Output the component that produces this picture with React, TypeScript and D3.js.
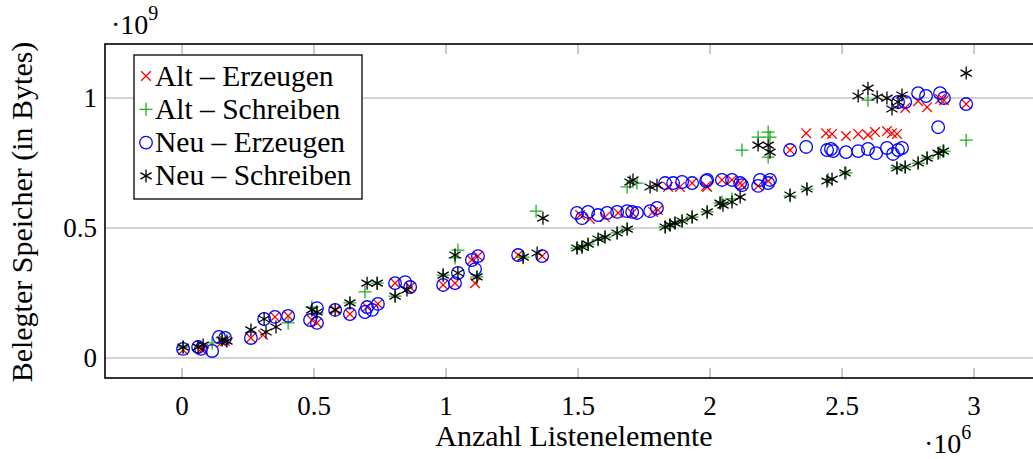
import React from "react";
import * as d3 from "d3";

// Data in units: x = 10^6 elements, y = 10^9 bytes
const altErzeugen: [number, number][] = [
  [0.004, 0.031], [0.072, 0.035], [0.08, 0.035], [0.152, 0.062], [0.163, 0.065], [0.261, 0.077],
  [0.307, 0.088], [0.352, 0.158], [0.402, 0.162], [0.511, 0.135], [0.492, 0.146], [0.58, 0.185],
  [0.636, 0.169], [0.701, 0.196], [0.742, 0.208], [0.807, 0.288], [0.864, 0.273], [0.989, 0.281],
  [1.034, 0.288], [1.098, 0.377], [1.121, 0.392], [1.11, 0.288], [1.273, 0.396], [1.364, 0.392],
  [1.508, 0.55], [1.545, 0.535], [1.602, 0.542], [1.652, 0.558], [1.705, 0.558], [1.784, 0.562],
  [1.803, 0.569], [1.841, 0.658], [1.886, 0.658], [1.932, 0.673], [1.989, 0.658], [1.985, 0.662],
  [2.045, 0.685], [2.083, 0.685], [2.114, 0.673], [2.121, 0.665], [2.182, 0.662], [2.22, 0.681],
  [2.303, 0.8], [2.364, 0.865], [2.439, 0.865], [2.462, 0.862], [2.515, 0.854], [2.561, 0.862],
  [2.598, 0.858], [2.625, 0.869], [2.67, 0.873], [2.689, 0.865], [2.708, 0.862], [2.739, 0.962],
  [2.788, 0.988], [2.822, 0.965], [2.871, 0.996], [2.886, 0.992], [2.97, 0.977],
];

const altSchreiben: [number, number][] = [
  [0.004, 0.042], [0.114, 0.058], [0.152, 0.077], [0.402, 0.135], [0.492, 0.196], [0.511, 0.173],
  [0.636, 0.212], [0.739, 0.288], [0.693, 0.254], [0.807, 0.238], [0.989, 0.319], [1.034, 0.385],
  [1.045, 0.415], [1.117, 0.312], [1.292, 0.388], [1.341, 0.565], [1.496, 0.423], [1.515, 0.427],
  [1.538, 0.438], [1.576, 0.454], [1.602, 0.465], [1.648, 0.481], [1.686, 0.496], [1.686, 0.658],
  [1.723, 0.673], [1.83, 0.504], [1.848, 0.512], [1.867, 0.519], [1.894, 0.527], [1.932, 0.542],
  [1.989, 0.562], [2.038, 0.596], [2.045, 0.6], [2.083, 0.612], [2.121, 0.8], [2.182, 0.85],
  [2.22, 0.869], [2.227, 0.85], [2.22, 0.773], [2.303, 0.623], [2.367, 0.65], [2.447, 0.688],
  [2.515, 0.712], [2.708, 0.731], [2.739, 0.735], [2.788, 0.75], [2.822, 0.769], [2.871, 0.792],
  [2.886, 0.796], [2.598, 0.992], [2.97, 0.838],
];

const neuErzeugen: [number, number][] = [
  [0.004, 0.035], [0.061, 0.042], [0.072, 0.035], [0.114, 0.027], [0.14, 0.081], [0.163, 0.077],
  [0.261, 0.077], [0.311, 0.15], [0.352, 0.158], [0.402, 0.162], [0.485, 0.146], [0.511, 0.192],
  [0.511, 0.135], [0.58, 0.185], [0.636, 0.169], [0.693, 0.177], [0.701, 0.196], [0.72, 0.185],
  [0.742, 0.208], [0.807, 0.288], [0.845, 0.292], [0.864, 0.273], [0.989, 0.281], [1.034, 0.288],
  [1.045, 0.327], [1.098, 0.377], [1.121, 0.392], [1.11, 0.342], [1.273, 0.396], [1.364, 0.392],
  [1.496, 0.558], [1.515, 0.538], [1.538, 0.562], [1.576, 0.55], [1.61, 0.558], [1.648, 0.562],
  [1.686, 0.565], [1.705, 0.562], [1.723, 0.558], [1.773, 0.565], [1.799, 0.577], [1.83, 0.673],
  [1.86, 0.673], [1.894, 0.677], [1.932, 0.673], [1.989, 0.685], [1.985, 0.681], [2.045, 0.685],
  [2.083, 0.685], [2.114, 0.673], [2.121, 0.665], [2.189, 0.685], [2.182, 0.662], [2.22, 0.673],
  [2.227, 0.685], [2.303, 0.8], [2.364, 0.812], [2.443, 0.8], [2.458, 0.804], [2.466, 0.796],
  [2.515, 0.792], [2.561, 0.796], [2.598, 0.804], [2.629, 0.788], [2.67, 0.808], [2.693, 0.785],
  [2.712, 0.8], [2.727, 0.808], [2.712, 0.985], [2.739, 0.985], [2.788, 1.019], [2.818, 1.008],
  [2.864, 0.888], [2.871, 1.019], [2.886, 1.0], [2.97, 0.977],
];

const neuSchreiben: [number, number][] = [
  [0.004, 0.042], [0.061, 0.042], [0.08, 0.05], [0.152, 0.069], [0.17, 0.065], [0.261, 0.108],
  [0.311, 0.15], [0.318, 0.1], [0.356, 0.119], [0.492, 0.185], [0.511, 0.177], [0.58, 0.185],
  [0.636, 0.212], [0.701, 0.288], [0.739, 0.288], [0.807, 0.238], [0.852, 0.262], [0.989, 0.319],
  [1.034, 0.396], [1.045, 0.327], [1.117, 0.312], [1.292, 0.388], [1.345, 0.404], [1.367, 0.538],
  [1.496, 0.423], [1.515, 0.427], [1.538, 0.438], [1.576, 0.458], [1.602, 0.465], [1.648, 0.481],
  [1.686, 0.496], [1.708, 0.685], [1.697, 0.677], [1.773, 0.658], [1.799, 0.665], [1.83, 0.504],
  [1.848, 0.512], [1.867, 0.519], [1.894, 0.527], [1.932, 0.542], [1.989, 0.562], [2.038, 0.596],
  [2.049, 0.588], [2.083, 0.6], [2.114, 0.619], [2.182, 0.819], [2.22, 0.819], [2.227, 0.792],
  [2.303, 0.627], [2.367, 0.65], [2.443, 0.681], [2.462, 0.688], [2.511, 0.712], [2.561, 1.008],
  [2.598, 1.038], [2.633, 1.004], [2.67, 1.0], [2.689, 0.958], [2.712, 0.985], [2.727, 1.012],
  [2.708, 0.731], [2.739, 0.735], [2.788, 0.75], [2.822, 0.769], [2.864, 0.788], [2.883, 0.796],
  [2.97, 1.096],
];

const xTicks = [0, 0.5, 1, 1.5, 2, 2.5, 3];
const yTicks = [0, 0.5, 1];
const xTickLabels = ["0", "0.5", "1", "1.5", "2", "2.5", "3"];
const yTickLabels = ["0", "0.5", "1"];
const legendLabels = ["Alt – Erzeugen", "Alt – Schreiben", "Neu – Erzeugen", "Neu – Schreiben"];

const W = 1033;
const H = 459;
const FONT = "'Liberation Serif', 'Times New Roman', serif";

type Kind = "x" | "plus" | "circle" | "star";

function Marker({ kind, cx, cy }: { kind: Kind; cx: number; cy: number }) {
  if (kind === "x") {
    const r = 4.8;
    return (
      <path
        d={`M${cx - r},${cy - r}L${cx + r},${cy + r}M${cx - r},${cy + r}L${cx + r},${cy - r}`}
        stroke="#ff0000"
        strokeWidth={1.3}
        fill="none"
      />
    );
  }
  if (kind === "plus") {
    const r = 6.5;
    return (
      <path
        d={`M${cx - r},${cy}L${cx + r},${cy}M${cx},${cy - r}L${cx},${cy + r}`}
        stroke="#1fae1f"
        strokeWidth={1.3}
        fill="none"
      />
    );
  }
  if (kind === "circle") {
    return <circle cx={cx} cy={cy} r={6.3} stroke="#0000ff" strokeWidth={1.3} fill="none" />;
  }
  const r = 6.5;
  const a = (Math.PI / 180) * 30;
  const dx = r * Math.cos(a);
  const dy = r * Math.sin(a);
  return (
    <path
      d={`M${cx},${cy - r}L${cx},${cy + r}M${cx - dx},${cy - dy}L${cx + dx},${cy + dy}M${cx - dx},${cy + dy}L${cx + dx},${cy - dy}`}
      stroke="#000"
      strokeWidth={1.3}
      fill="none"
    />
  );
}

export default function App() {
  const left = 105;
  const top = 44;
  const bottom = 378;
  const right = 1044.5;
  const x = d3.scaleLinear().domain([-0.2917, 3.2667]).range([left, right]);
  const y = d3.scaleLinear().domain([-0.077, 1.208]).range([bottom, top]);

  const series: { data: [number, number][]; kind: Kind }[] = [
    { data: altErzeugen, kind: "x" },
    { data: altSchreiben, kind: "plus" },
    { data: neuErzeugen, kind: "circle" },
    { data: neuSchreiben, kind: "star" },
  ];

  const legX = 134;
  const legY = 55;
  const legW = 228;
  const legH = 144;
  const rowY = (i: number) => 76 + i * 33.3;

  return (
    <svg
      width={W}
      height={H}
      style={{ position: "fixed", left: 0, top: 0, background: "#fff" }}
      fontFamily={FONT}
    >
      <rect x={0} y={0} width={W} height={H} fill="#fff" />
      {/* grid */}
      {yTicks.map((t) => (
        <line key={"g" + t} x1={left} x2={right} y1={y(t)} y2={y(t)} stroke="#c4c4c4" strokeWidth={1.5} />
      ))}
      {xTicks.map((t) => (
        <g key={"xt" + t}>
          <line x1={x(t)} x2={x(t)} y1={bottom} y2={bottom - 10} stroke="#b8b8b8" strokeWidth={1.5} />
          <line x1={x(t)} x2={x(t)} y1={top} y2={top + 10} stroke="#b8b8b8" strokeWidth={1.5} />
        </g>
      ))}
      {/* marks */}
      {series.map((s, si) => (
        <g key={"s" + si}>
          {s.data.map((d, i) => (
            <Marker key={i} kind={s.kind} cx={x(d[0])} cy={y(d[1])} />
          ))}
        </g>
      ))}
      {/* frame */}
      <rect x={left} y={top} width={right - left} height={bottom - top} fill="none" stroke="#000" strokeWidth={1.6} />
      {/* tick labels */}
      {xTicks.map((t, i) => (
        <text key={"xl" + t} x={x(t)} y={415} textAnchor="middle" fontSize={27}>
          {xTickLabels[i]}
        </text>
      ))}
      {yTicks.map((t, i) => (
        <text key={"yl" + t} x={97} y={y(t) + 9} textAnchor="end" fontSize={27}>
          {yTickLabels[i]}
        </text>
      ))}
      {/* exponents */}
      <text x={111} y={34} fontSize={28}>
        ·10
        <tspan fontSize={20} dy={-14}>9</tspan>
      </text>
      <text x={924} y={453} fontSize={28}>
        ·10
        <tspan fontSize={20} dy={-14}>6</tspan>
      </text>
      {/* axis labels */}
      <text x={574} y={446} textAnchor="middle" fontSize={30}>
        Anzahl Listenelemente
      </text>
      <text transform={`translate(32,212) rotate(-90)`} textAnchor="middle" fontSize={30}>
        Belegter Speicher (in Bytes)
      </text>
      {/* legend */}
      <rect x={legX} y={legY} width={legW} height={legH} fill="#fff" stroke="#000" strokeWidth={1.3} />
      {legendLabels.map((lab, i) => (
        <g key={"lg" + i}>
          <Marker kind={series[i].kind} cx={legX + 12} cy={rowY(i)} />
          <text x={legX + 21} y={rowY(i) + 9.5} fontSize={29.5}>
            {lab}
          </text>
        </g>
      ))}
    </svg>
  );
}
